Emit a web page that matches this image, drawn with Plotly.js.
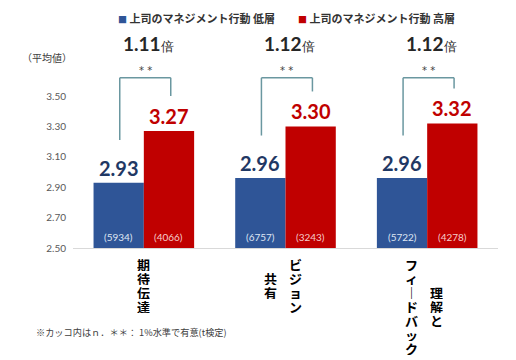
<!DOCTYPE html>
<html><head><meta charset="utf-8">
<script src="https://cdn.plot.ly/plotly-3.0.1.min.js"></script>
<style>html,body{margin:0;padding:0;background:#fff}</style>
</head><body><div id="chart" style="width:516px;height:360px"></div>
<script>
const categories = ['期待伝達', 'ビジョン共有', 'フィードバック理解と'];
const seriesNames = ['上司のマネジメント行動 低層', '上司のマネジメント行動 高層'];
const lowValues = [2.93, 2.96, 2.96];
const highValues = [3.27, 3.30, 3.32];
const lowCounts = [5934, 6757, 5722];
const highCounts = [4066, 3243, 4278];
const ratioLabels = ['1.11', '1.12', '1.12'];
const sigMarks = ['**', '**', '**'];
const labelColumns = [['期待伝達'], ['共有', 'ビジョン'], ['フィードバック', '理解と']];
const yTicks = [2.5, 2.7, 2.9, 3.1, 3.3, 3.5];
const yAxisNote = '（平均値）';
const footNote = '※カッコ内はｎ．＊＊： 1%水準で有意(t検定)';

const BLUE = '#2F5597', RED = '#C00000';
const NAVY = '#1F3864';
const JP = '"Noto Sans CJK JP", "Noto Sans", sans-serif';
const NUM = 'Lato, "Noto Sans", sans-serif';
const idx = categories.map((c, i) => i);
const OFF = 0.1775;

const traces = [
  {type: 'bar', name: seriesNames[0], x: idx, y: lowValues, marker: {color: BLUE}, hoverinfo: 'none'},
  {type: 'bar', name: seriesNames[1], x: idx, y: highValues, marker: {color: RED}, hoverinfo: 'none'}
];

const annotations = [];
const shapes = [];
const BR = '#6A97A0';
idx.forEach(i => {
  // counts inside bars
  annotations.push({xref: 'x', yref: 'y', x: i - OFF, y: 2.5, yanchor: 'bottom', yshift: 3,
    text: '(' + lowCounts[i] + ')', showarrow: false, font: {family: NUM, size: 10, color: '#dfe6f3'}});
  annotations.push({xref: 'x', yref: 'y', x: i + OFF, y: 2.5, yanchor: 'bottom', yshift: 3,
    text: '(' + highCounts[i] + ')', showarrow: false, font: {family: NUM, size: 10, color: '#f6cccc'}});
  // value labels
  annotations.push({xref: 'x', yref: 'y', x: i - OFF, y: lowValues[i], yanchor: 'bottom', yshift: 1,
    text: lowValues[i].toFixed(2), showarrow: false, font: {family: NUM, size: 20, color: NAVY, weight: 'bold'}});
  annotations.push({xref: 'x', yref: 'y', x: i + OFF, y: highValues[i], yanchor: 'bottom', yshift: 1,
    text: highValues[i].toFixed(2), showarrow: false, font: {family: NUM, size: 20, color: RED, weight: 'bold'}});
  // bracket
  const top = 3.62;
  const lb = lowValues[i] + 0.28, rb = highValues[i] + 0.23;
  const xl = i - 0.17, xr = i + 0.19;
  shapes.push({type: 'line', xref: 'x', yref: 'y', x0: xl, x1: xl, y0: lb, y1: top, line: {color: BR, width: 1.5}});
  shapes.push({type: 'line', xref: 'x', yref: 'y', x0: xl, x1: xr, y0: top, y1: top, line: {color: BR, width: 1.5}});
  shapes.push({type: 'line', xref: 'x', yref: 'y', x0: xr, x1: xr, y0: top, y1: rb, line: {color: BR, width: 1.5}});
  annotations.push({xref: 'x', yref: 'y', x: i + 0.01, y: top, yanchor: 'bottom', yshift: 0,
    text: sigMarks[i].split('').join(' '), showarrow: false, font: {family: 'DejaVu Sans, sans-serif', size: 10, color: '#404040'}});
  // ratio
  annotations.push({xref: 'x', yref: 'paper', x: i + 0.03, y: 1.09, yanchor: 'middle',
    text: '<b>' + ratioLabels[i] + '</b><span style="font-size:13px">倍</span>', showarrow: false,
    font: {family: NUM, size: 19, color: '#262626'}});
  // vertical category labels
  const cols = labelColumns[i];
  const maxLen = Math.max(...cols.map(c => c.length));
  const pitch = 14;
  cols.forEach((col, ci) => {
    const xs = cols.length === 1 ? 0 : (-3 + (ci - (cols.length - 1) / 2) * 25);
    const start = (maxLen - col.length) * pitch / 2;
    col.split('').forEach((ch, k) => {
      const c = ch === 'ー' ? '｜' : ch;
      annotations.push({xref: 'x', yref: 'paper', x: i, y: 0, xshift: xs, yanchor: 'middle',
        yshift: -(16 + start + k * pitch), text: c, showarrow: false, height: pitch, borderpad: 0,
        font: {family: JP, size: 13, color: '#000', weight: 'bold'}});
    });
  });
});

// legend
annotations.push({xref: 'paper', yref: 'paper', x: (116 - 73) / 425, xanchor: 'left', y: (248 - 18) / 188, yanchor: 'middle',
  text: '<span style="color:' + BLUE + ';font-size:9px">■</span> ' + seriesNames[0], showarrow: false,
  font: {family: JP, size: 11, color: '#333', weight: 'bold'}});
annotations.push({xref: 'paper', yref: 'paper', x: (296 - 73) / 425, xanchor: 'left', y: (248 - 18) / 188, yanchor: 'middle',
  text: '<span style="color:' + RED + ';font-size:9px">■</span> ' + seriesNames[1], showarrow: false,
  font: {family: JP, size: 11, color: '#333', weight: 'bold'}});
annotations.push({xref: 'paper', yref: 'paper', x: (20 - 73) / 425, xanchor: 'left', y: (248 - 57) / 188, yanchor: 'middle',
  text: yAxisNote, showarrow: false, font: {family: JP, size: 10, color: '#404040'}});
annotations.push({xref: 'paper', yref: 'paper', x: (34 - 73) / 425, xanchor: 'left', y: (248 - 332) / 188, yanchor: 'middle',
  text: footNote, showarrow: false, font: {family: JP, size: 9.2, color: '#404040'}});

const layout = {
  width: 516, height: 360,
  margin: {l: 73, r: 18, t: 60, b: 112},
  paper_bgcolor: '#fff', plot_bgcolor: '#fff',
  showlegend: false,
  barmode: 'group', bargap: 0.29, bargroupgap: 0,
  xaxis: {type: 'linear', range: [-0.5, 2.5], showticklabels: false, ticks: '', showgrid: false, zeroline: false,
    showline: true, linecolor: '#d9d9d9', linewidth: 1},
  yaxis: {range: [2.5, 3.737], tickvals: yTicks, ticktext: yTicks.map(v => v.toFixed(2)), showgrid: false,
    zeroline: false, showline: false, ticks: '', ticklabelstandoff: 6,
    tickfont: {family: NUM, size: 10, color: '#595959'}},
  annotations: annotations, shapes: shapes
};
Plotly.newPlot('chart', traces, layout, {displayModeBar: false, staticPlot: true});
</script></body></html>
